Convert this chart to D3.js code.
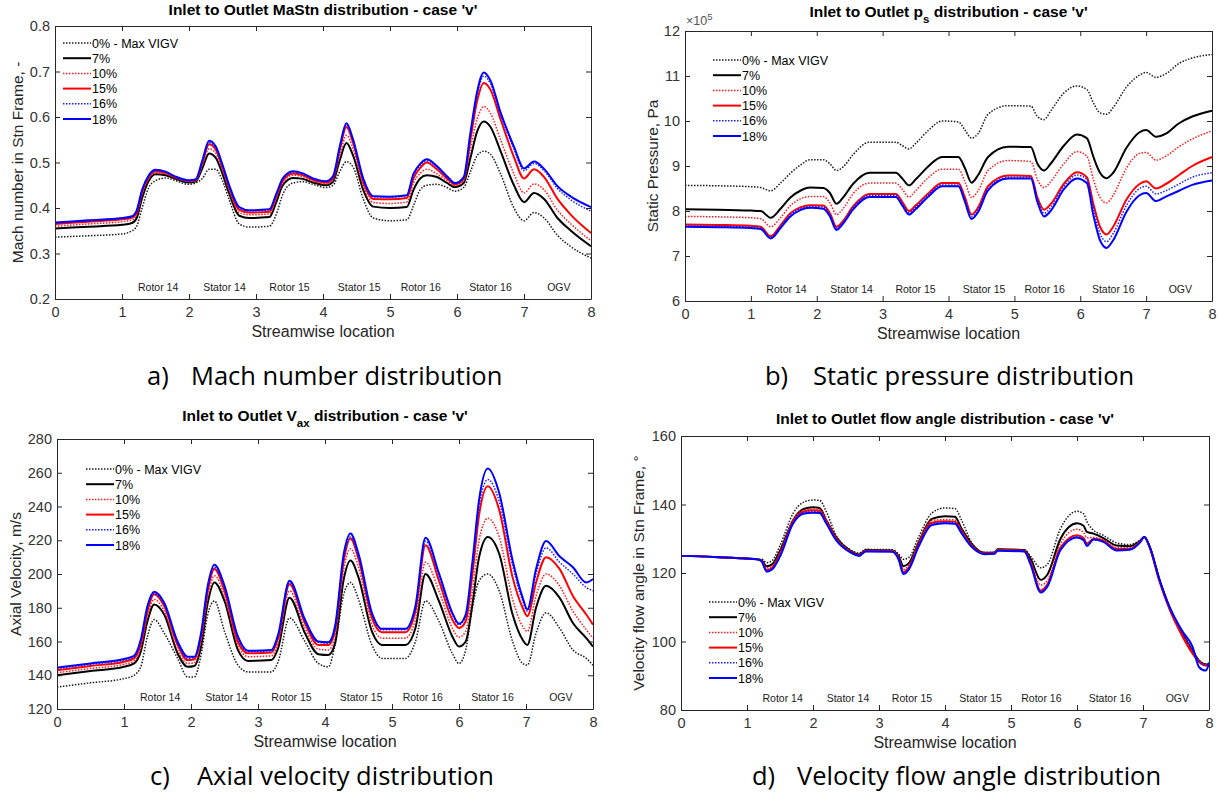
<!DOCTYPE html>
<html>
<head>
<meta charset="utf-8">
<script src="https://cdn.jsdelivr.net/npm/d3@7"></script>
<style>
  body { margin: 0; background: #fff; }
</style>
</head>
<body>
<script>
// ---- data ----
const series_names = ['0% - Max VIGV', '7%', '10%', '15%', '16%', '18%'];
const series_colors = ['#1a1a1a', '#000000', '#ff1a1a', '#ff0000', '#1a1aff', '#0000ff'];
const series_dotted = [true, false, true, false, true, false];

const region_labels = ['Rotor 14', 'Stator 14', 'Rotor 15', 'Stator 15', 'Rotor 16', 'Stator 16', 'OGV'];
const region_pos = [1.54, 2.53, 3.5, 4.54, 5.46, 6.5, 7.52];
const x_ticks = [0, 1, 2, 3, 4, 5, 6, 7, 8];

// a) Mach number
const mach_x = [0, 0.5, 1.0, 1.15, 1.22, 1.3, 1.4, 1.5, 1.65, 1.8, 2.0, 2.1, 2.2, 2.3, 2.4, 2.5, 2.6, 2.75, 2.9, 3.2,
  3.3, 3.4, 3.55, 3.7, 3.85, 4.05, 4.15, 4.25, 4.35, 4.45, 4.6, 4.75, 5.0, 5.25, 5.35, 5.45, 5.55, 5.7, 5.85, 5.97,
  6.1, 6.2, 6.3, 6.4, 6.5, 6.65, 6.85, 7.0, 7.15, 7.3, 7.5, 7.7, 8.0];
const mach_0 = [0.336, 0.339, 0.343, 0.350, 0.360, 0.400, 0.445, 0.460, 0.466, 0.460, 0.452, 0.455, 0.465, 0.485, 0.485,
  0.460, 0.418, 0.365, 0.358, 0.360, 0.385, 0.430, 0.455, 0.458, 0.452, 0.445, 0.450, 0.480, 0.502, 0.490,
  0.420, 0.378, 0.372, 0.374, 0.405, 0.440, 0.450, 0.452, 0.445, 0.437, 0.445, 0.480, 0.515, 0.525, 0.518,
  0.475, 0.400, 0.372, 0.390, 0.378, 0.340, 0.315, 0.290];
const mach_7 = [0.355, 0.359, 0.363, 0.367, 0.378, 0.422, 0.460, 0.474, 0.472, 0.464, 0.456, 0.458, 0.488, 0.520, 0.510,
  0.475, 0.432, 0.383, 0.378, 0.380, 0.412, 0.450, 0.466, 0.464, 0.456, 0.450, 0.458, 0.505, 0.543, 0.515,
  0.440, 0.403, 0.400, 0.402, 0.440, 0.465, 0.472, 0.468, 0.455, 0.446, 0.455, 0.510, 0.568, 0.590, 0.578,
  0.525, 0.450, 0.413, 0.433, 0.420, 0.378, 0.350, 0.316];
const mach_10 = [0.360, 0.365, 0.370, 0.374, 0.385, 0.430, 0.465, 0.477, 0.475, 0.466, 0.458, 0.460, 0.495, 0.530, 0.520,
  0.483, 0.440, 0.390, 0.385, 0.387, 0.420, 0.455, 0.472, 0.469, 0.459, 0.453, 0.462, 0.515, 0.560, 0.530,
  0.450, 0.412, 0.410, 0.413, 0.455, 0.476, 0.485, 0.475, 0.460, 0.449, 0.460, 0.530, 0.595, 0.623, 0.608,
  0.550, 0.475, 0.433, 0.453, 0.440, 0.395, 0.365, 0.328];
const mach_15 = [0.365, 0.370, 0.375, 0.379, 0.390, 0.436, 0.468, 0.480, 0.477, 0.467, 0.459, 0.461, 0.500, 0.540, 0.528,
  0.490, 0.445, 0.396, 0.390, 0.392, 0.425, 0.460, 0.476, 0.472, 0.462, 0.456, 0.466, 0.528, 0.578, 0.543,
  0.458, 0.420, 0.419, 0.422, 0.465, 0.488, 0.500, 0.485, 0.465, 0.452, 0.464, 0.550, 0.635, 0.675, 0.660,
  0.595, 0.512, 0.465, 0.485, 0.468, 0.420, 0.385, 0.345];
const mach_16 = [0.367, 0.372, 0.377, 0.381, 0.394, 0.438, 0.470, 0.482, 0.479, 0.468, 0.460, 0.462, 0.502, 0.544, 0.532,
  0.493, 0.448, 0.401, 0.394, 0.396, 0.428, 0.463, 0.479, 0.475, 0.464, 0.458, 0.468, 0.532, 0.583, 0.547,
  0.463, 0.425, 0.424, 0.427, 0.472, 0.494, 0.504, 0.490, 0.468, 0.454, 0.466, 0.560, 0.648, 0.690, 0.673,
  0.605, 0.530, 0.482, 0.498, 0.482, 0.443, 0.418, 0.393];
const mach_18 = [0.368, 0.373, 0.378, 0.382, 0.395, 0.440, 0.472, 0.484, 0.480, 0.469, 0.461, 0.463, 0.505, 0.548, 0.535,
  0.495, 0.450, 0.402, 0.395, 0.397, 0.430, 0.465, 0.481, 0.476, 0.465, 0.459, 0.470, 0.535, 0.586, 0.550,
  0.465, 0.426, 0.425, 0.428, 0.475, 0.497, 0.507, 0.492, 0.470, 0.455, 0.468, 0.565, 0.655, 0.698, 0.680,
  0.610, 0.535, 0.487, 0.502, 0.486, 0.448, 0.425, 0.402];
const mach_ticks = [0.2, 0.3, 0.4, 0.5, 0.6, 0.7, 0.8];

// b) static pressure, x10^5 Pa
const ps_x = [0, 0.5, 1.0, 1.15, 1.3, 1.45, 1.6, 1.75, 1.9, 2.1, 2.2, 2.3, 2.4, 2.55, 2.8, 3.2, 3.3, 3.4, 3.5, 3.7,
  3.9, 4.15, 4.25, 4.35, 4.45, 4.6, 4.9, 5.25, 5.35, 5.45, 5.55, 5.75, 5.95, 6.1, 6.2, 6.3, 6.4, 6.5, 6.7, 6.9,
  7.0, 7.15, 7.3, 7.5, 7.7, 8.0];
const ps_0 = [8.57, 8.56, 8.54, 8.52, 8.45, 8.62, 8.84, 9.02, 9.14, 9.14, 9.05, 8.90, 8.98, 9.25, 9.53,
  9.53, 9.45, 9.38, 9.50, 9.80, 10.00, 9.98, 9.80, 9.62, 9.72, 10.15, 10.34, 10.33, 10.10, 10.03,
  10.22, 10.62, 10.78, 10.70, 10.40, 10.18, 10.15, 10.30, 10.75, 11.02, 11.08, 10.97, 11.05, 11.28, 11.40, 11.48];
const ps_7 = [8.04, 8.03, 8.01, 8.00, 7.85, 8.05, 8.30, 8.45, 8.52, 8.51, 8.40, 8.16, 8.30, 8.60, 8.85,
  8.85, 8.72, 8.57, 8.70, 9.00, 9.20, 9.20, 8.95, 8.63, 8.80, 9.20, 9.43, 9.42, 9.05, 8.90,
  9.05, 9.45, 9.70, 9.62, 9.20, 8.85, 8.73, 8.85, 9.40, 9.75, 9.80, 9.65, 9.72, 9.95, 10.10, 10.23];
const ps_10 = [7.88, 7.87, 7.85, 7.83, 7.65, 7.85, 8.12, 8.27, 8.32, 8.32, 8.18, 7.92, 8.05, 8.38, 8.62,
  8.62, 8.48, 8.31, 8.45, 8.75, 8.93, 8.93, 8.65, 8.30, 8.45, 8.90, 9.12, 9.10, 8.70, 8.52,
  8.65, 9.05, 9.32, 9.22, 8.70, 8.30, 8.18, 8.35, 8.95, 9.28, 9.30, 9.13, 9.22, 9.43, 9.60, 9.78];
const ps_15 = [7.70, 7.69, 7.67, 7.65, 7.44, 7.68, 7.95, 8.08, 8.13, 8.12, 7.95, 7.65, 7.78, 8.10, 8.38,
  8.38, 8.20, 8.00, 8.12, 8.40, 8.62, 8.62, 8.30, 7.92, 8.08, 8.55, 8.79, 8.78, 8.30, 8.03,
  8.15, 8.60, 8.86, 8.75, 8.15, 7.65, 7.48, 7.65, 8.25, 8.60, 8.66, 8.50, 8.60, 8.80, 9.00, 9.20];
const ps_16 = [7.67, 7.66, 7.64, 7.62, 7.41, 7.65, 7.92, 8.05, 8.10, 8.09, 7.92, 7.62, 7.75, 8.07, 8.35,
  8.35, 8.16, 7.96, 8.08, 8.37, 8.58, 8.58, 8.25, 7.87, 8.03, 8.50, 8.75, 8.75, 8.25, 7.95,
  8.08, 8.55, 8.80, 8.70, 8.05, 7.50, 7.32, 7.50, 8.12, 8.50, 8.55, 8.38, 8.45, 8.60, 8.75, 8.85];
const ps_18 = [7.65, 7.64, 7.62, 7.60, 7.39, 7.62, 7.88, 8.02, 8.07, 8.05, 7.88, 7.58, 7.72, 8.03, 8.31,
  8.31, 8.12, 7.92, 8.04, 8.33, 8.55, 8.55, 8.20, 7.82, 7.98, 8.46, 8.72, 8.72, 8.20, 7.88,
  8.00, 8.48, 8.72, 8.62, 7.90, 7.35, 7.18, 7.35, 7.98, 8.35, 8.40, 8.22, 8.32, 8.45, 8.58, 8.68];
const ps_ticks = [6, 7, 8, 9, 10, 11, 12];

// c) axial velocity, m/s
const vax_x = [0, 0.5, 1.0, 1.15, 1.25, 1.35, 1.45, 1.6, 1.8, 1.95, 2.05, 2.15, 2.25, 2.35, 2.5, 2.7, 2.85, 3.2, 3.3, 3.47,
  3.7, 3.9, 4.05, 4.15, 4.28, 4.38, 4.5, 4.7, 4.85, 5.2, 5.35, 5.5, 5.7, 5.9, 6.0, 6.1, 6.2, 6.3, 6.43, 6.6,
  6.8, 6.95, 7.02, 7.15, 7.3, 7.5, 7.7, 7.9, 8.0];
const vax_0 = [133, 135.5, 138, 140, 145, 163, 173, 165, 150, 139, 139, 152, 176, 184, 166, 146, 142, 142, 148, 174,
  160, 147, 145, 158, 188, 195, 185, 158, 150, 150, 160, 184, 172, 153, 147, 155, 180, 196, 200, 190,
  160, 147, 146, 165, 177, 168, 155, 150, 146];
const vax_7 = [140, 142.5, 145, 147, 154, 172, 182, 176, 153, 145, 145.5, 157, 183, 195, 184, 155, 148.5, 149, 156, 186,
  165, 152.5, 152, 159, 197, 208, 198, 166, 158, 158, 168, 200, 184, 163, 157, 160, 182, 210, 222, 212,
  176, 161, 158, 180, 193, 186, 171, 162, 157];
const vax_10 = [141.5, 144, 146.5, 148.5, 156, 175, 185, 178, 155, 147, 147.5, 160, 186, 199, 187, 158, 151, 151.5, 159, 190,
  168, 155.5, 155, 163, 203, 215, 204, 170, 162, 162, 173, 207, 190, 168, 162.5, 166, 190, 220, 233, 222,
  185, 169, 166, 187, 200, 193, 178, 167, 162];
const vax_15 = [143, 145.5, 148, 150, 158.5, 178, 188, 181, 158, 149, 149.5, 163, 190, 203, 190, 160, 153, 153.5, 162, 194,
  171, 158, 158, 167, 208, 221, 209, 174, 165.5, 165.5, 178, 217, 196, 173, 168, 172, 200, 235, 252, 238,
  198, 180, 175, 195, 210, 203, 187, 176, 170];
const vax_16 = [144, 146.5, 149, 151, 160, 180, 188.5, 182, 159, 150, 150.5, 164, 192, 204, 192, 162, 154, 154.5, 163, 195,
  172, 159.5, 159, 168, 210, 222, 210, 176, 167, 167, 180, 219.5, 199, 176, 170, 175, 204, 240, 256, 243,
  205, 184, 178, 200, 215.5, 207, 200, 192, 190];
const vax_18 = [144.5, 147, 149.6, 151.5, 161, 181, 189.5, 183, 160, 151, 151, 165, 193, 205.5, 193, 163, 154.5, 155, 164, 196,
  173, 160, 159.5, 169, 212, 224, 212, 177, 167.5, 167.5, 181, 221.5, 200.5, 177, 170.5, 176, 207, 244, 262.5, 248,
  208, 186, 179, 203, 219.5, 210.5, 204, 195, 197];
const vax_ticks = [120, 140, 160, 180, 200, 220, 240, 260, 280];

// d) flow angle, deg
const ang_x = [0, 0.5, 1.0, 1.15, 1.22, 1.3, 1.38, 1.5, 1.7, 1.85, 2.0, 2.1, 2.2, 2.35, 2.55, 2.7, 2.8, 3.2, 3.3, 3.37,
  3.45, 3.6, 3.8, 4.0, 4.15, 4.25, 4.4, 4.6, 4.75, 4.8, 5.2, 5.3, 5.45, 5.55, 5.75, 6.0, 6.1, 6.15, 6.25, 6.4,
  6.6, 6.8, 6.95, 7.02, 7.1, 7.25, 7.4, 7.6, 7.75, 7.85, 7.95, 8.0];
const ang_0 = [125, 124.7, 124.2, 124, 124, 123, 123.6, 128, 137.5, 140.6, 141.3, 141.2, 138, 131, 127,
  125.8, 126.9, 126.8, 125.5, 124, 124.5, 130.5, 137.5, 139, 138.8, 135.5, 129, 126, 126, 126.9,
  126.8, 124.8, 121.5, 122.5, 133, 138, 137.3, 135, 132.5, 131, 128.8, 128.3, 129.5, 130.5, 127.8,
  118.2, 110.2, 102.4, 97.5, 94.5, 93.4, 93.4];
const ang_7 = [125, 124.7, 124.2, 124, 123.7, 122, 122.5, 126.5, 135.5, 138.6, 139.2, 139, 135.5, 130.5, 126.7,
  125.4, 126.7, 126.6, 124.8, 122, 122.8, 129, 135.8, 136.6, 136.4, 133, 128.6, 125.9, 126, 126.9,
  126.7, 124, 118, 119.5, 130, 134.5, 133.8, 132, 131.5, 130.2, 128, 127.8, 129.3, 130.5, 127.7,
  118, 110, 102.2, 97.3, 94.4, 93.3, 93.3];
const ang_10 = [125, 124.7, 124.2, 124, 123.6, 121.5, 122, 126, 135.5, 138.3, 138.7, 138.6, 135.5, 130.3, 126.6,
  125.3, 126.6, 126.5, 124.5, 121, 122.2, 128.8, 135.3, 135.6, 135.5, 132.5, 128.3, 125.8, 125.9, 126.8,
  126.6, 123.2, 116.5, 117.8, 128.6, 132.8, 131.8, 130.3, 130.4, 129.6, 127.4, 127.4, 129.2, 130.5, 127.6,
  117.8, 109.8, 102, 97, 94.3, 93.2, 93.2];
const ang_15 = [125, 124.7, 124.2, 124, 123.5, 120.9, 121.5, 125.5, 135.1, 137.9, 138.3, 138.2, 135.1, 130, 126.4,
  125.2, 126.5, 126.4, 124.2, 120.3, 121.6, 128.3, 134.7, 135.1, 135, 132.2, 128, 125.7, 125.8, 126.7,
  126.5, 122.7, 114.9, 116.6, 127.4, 131, 130.2, 128.6, 130, 129.4, 127, 127, 129, 130.5, 127.5,
  117.5, 109.5, 101.4, 96.5, 94, 93, 93];
const ang_16 = [125, 124.7, 124.2, 124, 123.5, 120.7, 121.3, 125.2, 134.8, 137.6, 137.9, 137.8, 134.8, 129.8, 126.3,
  125.1, 126.4, 126.3, 124, 120, 121.3, 128, 134.3, 134.8, 134.7, 131.9, 127.9, 125.6, 125.7, 126.6,
  126.4, 122.5, 114.6, 116.3, 127, 130.6, 129.8, 128.1, 129.9, 129.2, 126.8, 126.9, 128.9, 130.5, 127.8,
  118.2, 110, 102.5, 97.5, 94, 93, 94];
const ang_18 = [125, 124.7, 124.2, 124, 123.4, 120.4, 121, 124.8, 134.5, 137.3, 137.6, 137.5, 134.5, 129.6, 126.2,
  125, 126.3, 126.2, 123.8, 119.7, 121, 127.7, 134, 134.5, 134.4, 131.6, 127.7, 125.5, 125.6, 126.5,
  126.3, 122.3, 114.3, 116, 126.7, 130.4, 129.6, 127.9, 129.8, 129.1, 126.6, 126.8, 128.8, 130.5, 127.7,
  118, 110.2, 102.9, 98.5, 92.5, 91.5, 93.6];
const ang_ticks = [80, 100, 120, 140, 160];

// ---- drawing ----
const svg_width = 1220;
const svg_height = 800;
const axis_color = '#262626';
const chart_font = "'Liberation Sans', Arial, sans-serif";

const svg = d3.select('body')
    .append('svg')
    .attr('width', svg_width)
    .attr('height', svg_height)
    .style('background-color', '#ffffff');

function draw_panel(p) {
    const g = svg.append('g');
    const x = d3.scaleLinear().domain([0, 8]).range([p.left, p.right]);
    const y = d3.scaleLinear().domain([p.y_ticks[0], p.y_ticks[p.y_ticks.length - 1]]).range([p.bottom, p.top]);

    const line = d3.line()
        .x(d => x(d[0]))
        .y(d => y(d[1]))
        .curve(d3.curveMonotoneX);

    p.series.forEach((vals, i) => {
        g.append('path')
            .datum(p.xs.map((xv, j) => [xv, vals[j]]))
            .attr('d', line)
            .attr('fill', 'none')
            .attr('stroke', series_colors[i])
            .attr('stroke-width', series_dotted[i] ? 1.5 : 2)
            .attr('stroke-dasharray', series_dotted[i] ? '1.5,1.5' : null);
    });

    // box + inward ticks on all four sides
    const ax_bottom = g.append('g')
        .attr('transform', `translate(0,${p.bottom})`)
        .call(d3.axisBottom(x).tickValues(x_ticks).tickSizeInner(-5).tickSizeOuter(0).tickPadding(8));
    const ax_top = g.append('g')
        .attr('transform', `translate(0,${p.top})`)
        .call(d3.axisTop(x).tickValues(x_ticks).tickSizeInner(-5).tickSizeOuter(0).tickFormat(''));
    const ax_left = g.append('g')
        .attr('transform', `translate(${p.left},0)`)
        .call(d3.axisLeft(y).tickValues(p.y_ticks).tickSizeInner(-5).tickSizeOuter(0).tickPadding(5)
            .tickFormat(p.y_format));
    const ax_right = g.append('g')
        .attr('transform', `translate(${p.right},0)`)
        .call(d3.axisRight(y).tickValues(p.y_ticks).tickSizeInner(-5).tickSizeOuter(0).tickFormat(''));

    [ax_bottom, ax_top, ax_left, ax_right].forEach(a => {
        a.selectAll('path').attr('stroke', axis_color);
        a.selectAll('line').attr('stroke', axis_color);
        a.selectAll('text')
            .attr('fill', '#333')
            .style('font-family', chart_font)
            .style('font-size', '14.5px');
    });

    // region labels
    g.selectAll('.region')
        .data(region_labels)
        .join('text')
        .attr('x', (d, i) => x(region_pos[i]))
        .attr('y', p.bottom - 8)
        .attr('text-anchor', 'middle')
        .style('font-family', chart_font)
        .style('font-size', '10.5px')
        .attr('fill', '#1a1a1a')
        .text(d => d);

    // title with optional subscript
    const title = g.append('text')
        .attr('x', (p.left + p.right) / 2)
        .attr('y', p.title_y)
        .attr('text-anchor', 'middle')
        .style('font-family', chart_font)
        .style('font-size', '15.5px')
        .style('font-weight', 'bold')
        .attr('fill', '#000');
    p.title.forEach((part, i) => {
        const t = title.append('tspan').text(part);
        if (i % 2 === 1) t.attr('baseline-shift', 'sub').style('font-size', '11.5px');
    });

    // axis labels
    g.append('text')
        .attr('x', (p.left + p.right) / 2)
        .attr('y', p.bottom + 38)
        .attr('text-anchor', 'middle')
        .style('font-family', chart_font)
        .style('font-size', '16px')
        .attr('fill', axis_color)
        .text('Streamwise location');

    g.append('text')
        .attr('transform', `translate(${p.ylabel_x},${(p.top + p.bottom) / 2}) rotate(-90)`)
        .attr('text-anchor', 'middle')
        .attr('dy', '0.35em')
        .style('font-family', chart_font)
        .style('font-size', '15.5px')
        .attr('fill', axis_color)
        .text(p.ylabel);

    // legend (no box)
    series_names.forEach((name, i) => {
        const ly = p.legend_y + i * 15.2;
        g.append('line')
            .attr('x1', p.legend_x).attr('x2', p.legend_x + 28)
            .attr('y1', ly).attr('y2', ly)
            .attr('stroke', series_colors[i])
            .attr('stroke-width', series_dotted[i] ? 1.5 : 2)
            .attr('stroke-dasharray', series_dotted[i] ? '1.5,1.5' : null);
        g.append('text')
            .attr('x', p.legend_x + 29)
            .attr('y', ly + 4.5)
            .style('font-family', chart_font)
            .style('font-size', '12.5px')
            .attr('fill', '#000')
            .text(name);
    });

    // caption under the panel
    const cap = svg.append('text')
        .attr('x', p.cap_x)
        .attr('y', p.cap_y)
        .style('font-family', "'Open Sans', 'Noto Sans', sans-serif")
        .style('font-size', '25.5px')
        .attr('fill', '#000');
    cap.append('tspan').text(p.cap_letter);
    cap.append('tspan').attr('x', p.cap_x + p.cap_gap).text(p.cap_text);

    return {x, y, g};
}

draw_panel({
    left: 55, right: 591, top: 26, bottom: 299, title_y: 15,
    xs: mach_x, series: [mach_0, mach_7, mach_10, mach_15, mach_16, mach_18],
    y_ticks: mach_ticks, y_format: d3.format('.1f'),
    title: ['Inlet to Outlet MaStn distribution - case \'v\''],
    ylabel: 'Mach number in Stn Frame, -', ylabel_x: 18,
    legend_x: 63, legend_y: 43,
    cap_x: 147, cap_y: 385, cap_gap: 44, cap_letter: 'a)', cap_text: 'Mach number distribution'
});

draw_panel({
    left: 685, right: 1212, top: 31, bottom: 301, title_y: 17,
    xs: ps_x, series: [ps_0, ps_7, ps_10, ps_15, ps_16, ps_18],
    y_ticks: ps_ticks, y_format: d3.format('d'),
    title: ['Inlet to Outlet p', 's', ' distribution - case \'v\''],
    ylabel: 'Static Pressure, Pa', ylabel_x: 653,
    legend_x: 713, legend_y: 60,
    cap_x: 765, cap_y: 385, cap_gap: 48, cap_letter: 'b)', cap_text: 'Static pressure distribution'
});

// exponent marker of panel b
const exp_label = svg.append('text')
    .attr('x', 686)
    .attr('y', 25)
    .style('font-family', chart_font)
    .style('font-size', '12.5px')
    .attr('fill', '#555');
exp_label.append('tspan').text('\u00d710');
exp_label.append('tspan').attr('baseline-shift', 'super').style('font-size', '9.5px').text('5');

draw_panel({
    left: 57, right: 593, top: 439, bottom: 709, title_y: 421,
    xs: vax_x, series: [vax_0, vax_7, vax_10, vax_15, vax_16, vax_18],
    y_ticks: vax_ticks, y_format: d3.format('d'),
    title: ['Inlet to Outlet V', 'ax', ' distribution - case \'v\''],
    ylabel: 'Axial Velocity, m/s', ylabel_x: 16,
    legend_x: 86, legend_y: 469,
    cap_x: 150, cap_y: 785, cap_gap: 47, cap_letter: 'c)', cap_text: 'Axial velocity distribution'
});

draw_panel({
    left: 681, right: 1209, top: 436, bottom: 710, title_y: 424,
    xs: ang_x, series: [ang_0, ang_7, ang_10, ang_15, ang_16, ang_18],
    y_ticks: ang_ticks, y_format: d3.format('d'),
    title: ['Inlet to Outlet flow angle distribution - case \'v\''],
    ylabel: 'Velocity flow angle in Stn Frame, \u00b0', ylabel_x: 639,
    legend_x: 709, legend_y: 602,
    cap_x: 752, cap_y: 785, cap_gap: 45, cap_letter: 'd)', cap_text: 'Velocity flow angle distribution'
});
</script>
</body>
</html>
